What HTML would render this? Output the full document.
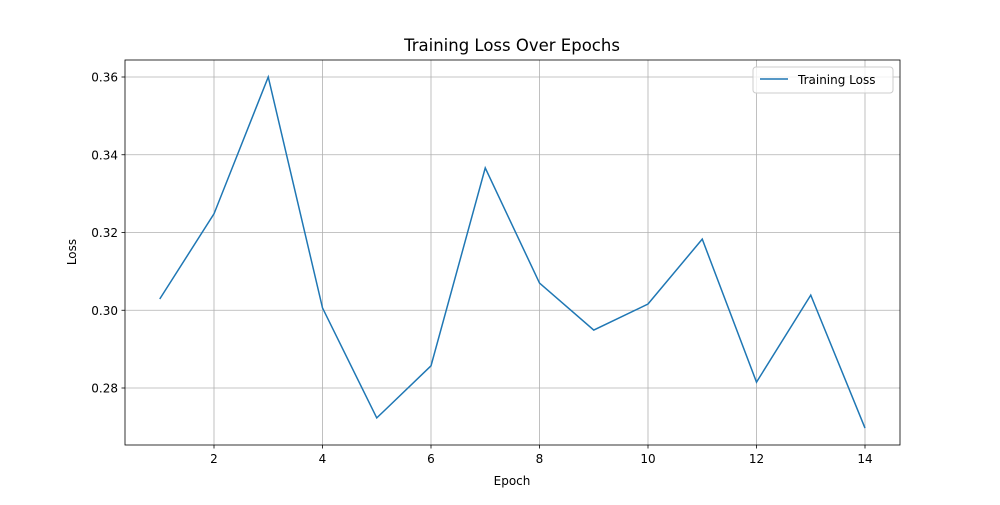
<!DOCTYPE html>
<html><head><meta charset="utf-8"><style>
body{margin:0;background:#fff;}
svg text{font-family:"DejaVu Sans","Liberation Sans",sans-serif;fill:#000;}
</style></head><body>
<svg id="chart" width="1000" height="500" xmlns="http://www.w3.org/2000/svg">
<rect width="1000" height="500" fill="#fff"/>
<g id="grid"></g>
<g id="ticks"></g>
<path id="line" fill="none" stroke="#1f77b4" stroke-width="1.5"/>
<rect x="125" y="60" width="775" height="385" fill="none" stroke="#000" stroke-width="0.8"/>
<text x="512" y="51" font-size="16.5" text-anchor="middle">Training Loss Over Epochs</text>
<text x="512" y="485" font-size="12" text-anchor="middle">Epoch</text>
<text x="76" y="252" font-size="12" text-anchor="middle" transform="rotate(-90 76 252)">Loss</text>
<g>
<rect x="753" y="67" width="140" height="26" rx="3" fill="#fff" fill-opacity="0.8" stroke="#ccc"/>
<line x1="760" y1="79" x2="788" y2="79" stroke="#1f77b4" stroke-width="1.5"/>
<text x="798" y="84" font-size="12">Training Loss</text>
</g>
</svg>
<script>
const epochs=[1,2,3,4,5,6,7,8,9,10,11,12,13,14];
const losses=[0.3029,0.3248,0.3600,0.3006,0.2723,0.2857,0.3366,0.3070,0.2949,0.3016,0.3183,0.2815,0.3039,0.2697];
const xTicks=[2,4,6,8,10,12,14];
const yTicks=[0.28,0.30,0.32,0.34,0.36];
const ns="http://www.w3.org/2000/svg";
const x=v=>159.75+(v-1)*54.25;
const y=v=>77-(v-0.36)*3887.5;
const grid=document.getElementById('grid'),ticks=document.getElementById('ticks');
function mk(t,a,p){const e=document.createElementNS(ns,t);for(const k in a)e.setAttribute(k,a[k]);p.appendChild(e);return e;}
xTicks.forEach(t=>{
 const g=mk('line',{x1:x(t),x2:x(t),y1:60,y2:445,stroke:'#b0b0b0','stroke-width':0.8},grid);
 
 
 mk('line',{x1:x(t),x2:x(t),y1:445,y2:448.5,stroke:'#000','stroke-width':0.8},ticks);
 const tx=mk('text',{x:x(t),y:463,'font-size':12,'text-anchor':'middle'},ticks);
 tx.textContent=t;
 
 
});
yTicks.forEach(t=>{
 const g=mk('line',{x1:125,x2:900,y1:y(t),y2:y(t),stroke:'#b0b0b0','stroke-width':0.8},grid);
 
 
 mk('line',{x1:121.5,x2:125,y1:y(t),y2:y(t),stroke:'#000','stroke-width':0.8},ticks);
 const tx=mk('text',{x:118,y:y(t)+4.5,'font-size':12,'text-anchor':'end'},ticks);
 tx.textContent=t.toFixed(2);
 
 
});
document.getElementById('line').setAttribute('d',epochs.map((e,i)=>(i?'L':'M')+x(e)+','+y(losses[i])).join(''));
</script>
</body></html>
